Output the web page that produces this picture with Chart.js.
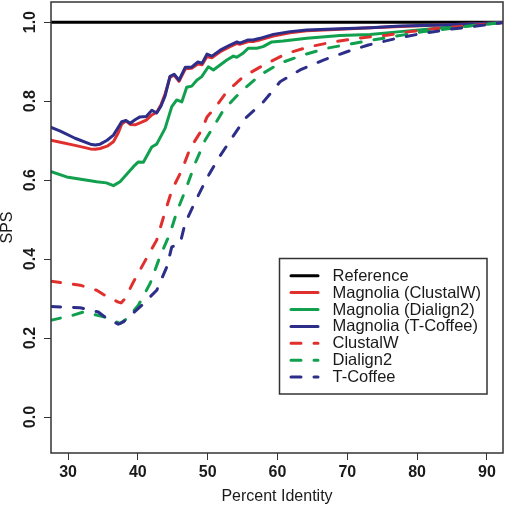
<!DOCTYPE html>
<html>
<head>
<meta charset="utf-8">
<script src="https://cdn.jsdelivr.net/npm/chart.js@4/dist/chart.umd.min.js"></script>
<style>html,body{margin:0;padding:0;background:#fff;}canvas{display:block;}</style>
</head>
<body>
<canvas id="c" width="507" height="506"></canvas>
<script>
// ---- data ----
const seriesLabels = ["Reference", "Magnolia (ClustalW)", "Magnolia (Dialign2)", "Magnolia (T-Coffee)", "ClustalW", "Dialign2", "T-Coffee"];
const xTicks = [30, 40, 50, 60, 70, 80, 90];
const yTicks = [0.0, 0.2, 0.4, 0.6, 0.8, 1.0];
const xRange = [27.56, 92.3];
const yRange = [-0.091, 1.051];

const refX = [27.56, 92.3];
const refY = [1.0, 1.0];

const magX = [27.5, 28.9, 31.0, 33.2, 33.9, 34.6, 35.6, 36.5, 37.2, 37.7, 38.3, 38.9, 39.6, 40.3, 41.2, 42.0, 42.7, 43.3, 43.9, 44.6, 45.2, 45.9, 46.8, 47.7, 48.6, 49.2, 49.9, 50.6, 51.8, 53.2, 54.2, 54.6, 55.8, 56.5, 57.5, 59.4, 61.8, 64.2, 69.0, 73.3, 77.6, 83.3, 87.6, 92.3];
const magClustalY = [0.701, 0.696, 0.688, 0.679, 0.678, 0.680, 0.686, 0.697, 0.720, 0.742, 0.750, 0.741, 0.740, 0.745, 0.752, 0.765, 0.772, 0.790, 0.818, 0.860, 0.866, 0.850, 0.882, 0.883, 0.894, 0.892, 0.913, 0.910, 0.925, 0.938, 0.946, 0.944, 0.951, 0.951, 0.955, 0.965, 0.973, 0.978, 0.982, 0.986, 0.989, 0.993, 0.995, 0.999];
const magTcoffeeY = [0.734, 0.724, 0.706, 0.691, 0.689, 0.691, 0.701, 0.714, 0.734, 0.748, 0.751, 0.744, 0.753, 0.760, 0.761, 0.777, 0.770, 0.787, 0.813, 0.863, 0.868, 0.853, 0.886, 0.886, 0.899, 0.896, 0.919, 0.914, 0.929, 0.942, 0.950, 0.947, 0.955, 0.955, 0.959, 0.969, 0.976, 0.980, 0.983, 0.986, 0.990, 0.993, 0.995, 0.999];

const magDialignX = [27.5, 29.8, 34.1, 35.5, 36.5, 37.45, 39.36, 40.07, 40.79, 41.99, 42.7, 43.9, 44.86, 45.57, 46.29, 47.0, 47.72, 48.44, 49.15, 50.1, 50.82, 52.74, 53.68, 54.17, 55.11, 55.83, 57.03, 57.94, 59.18, 60.8, 64.2, 68.97, 73.27, 77.56, 83.3, 87.6, 92.3];
const magDialignY = [0.622, 0.608, 0.596, 0.593, 0.586, 0.596, 0.634, 0.646, 0.645, 0.684, 0.691, 0.731, 0.786, 0.803, 0.798, 0.835, 0.838, 0.853, 0.862, 0.887, 0.879, 0.904, 0.914, 0.911, 0.922, 0.934, 0.934, 0.938, 0.950, 0.952, 0.959, 0.966, 0.969, 0.976, 0.985, 0.991, 0.999];

const clustalX = [27.5, 31.72, 34.11, 35.3, 37.2, 37.6, 38.17, 39.36, 41.27, 42.7, 43.65, 44.86, 46.29, 47.48, 49.15, 49.91, 50.34, 50.82, 52.74, 55.11, 57.98, 61.33, 64.67, 68.01, 71.83, 75.66, 79.0, 82.8, 86.16, 89.98, 92.3];
const clustalY = [0.344, 0.334, 0.321, 0.308, 0.291, 0.289, 0.300, 0.342, 0.403, 0.448, 0.505, 0.574, 0.625, 0.680, 0.727, 0.760, 0.769, 0.777, 0.824, 0.862, 0.891, 0.921, 0.938, 0.950, 0.960, 0.967, 0.976, 0.984, 0.989, 0.995, 0.999];

const dialignX = [27.5, 30.76, 32.19, 35.3, 37.45, 38.41, 40.07, 41.75, 43.18, 44.61, 45.57, 47.0, 48.19, 49.63, 50.82, 52.25, 54.64, 57.5, 60.37, 63.71, 67.06, 70.87, 73.74, 77.09, 80.9, 84.73, 88.55, 92.3];
const dialignY = [0.245, 0.258, 0.266, 0.253, 0.237, 0.249, 0.283, 0.338, 0.407, 0.465, 0.519, 0.583, 0.642, 0.701, 0.735, 0.777, 0.822, 0.866, 0.896, 0.917, 0.934, 0.946, 0.955, 0.965, 0.976, 0.984, 0.993, 0.999];

const tcoffeeX = [27.5, 31.72, 34.34, 35.3, 37.2, 37.92, 40.56, 42.7, 44.14, 44.86, 46.05, 46.76, 48.19, 49.87, 51.53, 53.45, 55.36, 57.98, 60.37, 63.24, 66.58, 69.93, 73.02, 77.09, 80.9, 84.73, 88.55, 92.3];
const tcoffeeY = [0.280, 0.277, 0.266, 0.253, 0.235, 0.241, 0.283, 0.321, 0.380, 0.431, 0.439, 0.490, 0.545, 0.604, 0.655, 0.706, 0.756, 0.798, 0.849, 0.879, 0.904, 0.925, 0.942, 0.959, 0.972, 0.982, 0.990, 0.999];

// ---- styling ----
const FONT = "'Liberation Sans', Arial, Helvetica, sans-serif";
const COLORS = ["#000000", "#E0302E", "#10A04E", "#2C2E8A", "#E0302E", "#10A04E", "#2C2E8A"];
const DASH = [10, 13];
const pts = (xs, ys) => xs.map((x, i) => ({x: x, y: ys[i]}));
const seriesData = [
  pts(refX, refY), pts(magX, magClustalY), pts(magDialignX, magDialignY), pts(magX, magTcoffeeY),
  pts(clustalX, clustalY), pts(dialignX, dialignY), pts(tcoffeeX, tcoffeeY)
];

const datasets = seriesData.map((d, i) => ({
  label: seriesLabels[i],
  data: d,
  borderColor: COLORS[i],
  backgroundColor: COLORS[i],
  borderWidth: 3,
  borderDash: i >= 4 ? DASH : [],
  borderCapStyle: 'round',
  borderJoinStyle: 'round',
  pointRadius: 0,
  tension: 0,
  fill: false,
  order: 10 - i
}));

const boxPlugin = {
  id: 'box',
  afterDraw(chart) {
    const {ctx, chartArea: a} = chart;
    ctx.save();
    ctx.strokeStyle = '#333';
    ctx.lineWidth = 1.5;
    ctx.strokeRect(a.left, a.top, a.right - a.left, a.bottom - a.top);
    ctx.restore();
  }
};

const legendPlugin = {
  id: 'rlegend',
  afterDraw(chart) {
    const ctx = chart.ctx;
    const bx = 279.5, by = 258.5, bw = 207.5, bh = 135.5;
    ctx.save();
    ctx.fillStyle = '#fff';
    ctx.fillRect(bx, by, bw, bh);
    ctx.strokeStyle = '#333';
    ctx.lineWidth = 1.5;
    ctx.strokeRect(bx, by, bw, bh);
    chart.data.datasets.forEach((ds, i) => {
      const cy = 275.7 + i * 16.9;
      ctx.strokeStyle = ds.borderColor;
      ctx.lineWidth = 3;
      ctx.lineCap = 'round';
      ctx.setLineDash(ds.borderDash && ds.borderDash.length ? ds.borderDash : []);
      ctx.beginPath();
      ctx.moveTo(291, cy);
      ctx.lineTo(318, cy);
      ctx.stroke();
      ctx.setLineDash([]);
      ctx.fillStyle = '#1a1a1a';
      ctx.font = '16.5px ' + FONT;
      ctx.textBaseline = 'middle';
      ctx.textAlign = 'left';
      ctx.fillText(ds.label, 332.5, cy + 0.5);
    });
    ctx.restore();
  }
};

new Chart(document.getElementById('c'), {
  type: 'line',
  data: {datasets: datasets},
  plugins: [boxPlugin, legendPlugin],
  options: {
    responsive: false,
    animation: false,
    devicePixelRatio: 1,
    layout: {padding: {top: 2, right: 4, left: 0, bottom: 0}},
    plugins: {legend: {display: false}, tooltip: {enabled: false}},
    scales: {
      x: {
        type: 'linear',
        min: xRange[0], max: xRange[1],
        afterBuildTicks: s => { s.ticks = xTicks.map(v => ({value: v})); },
        afterFit: s => { s.height = 53; s.paddingLeft = 0; s.paddingRight = 0; },
        grid: {drawOnChartArea: false, drawTicks: true, tickLength: 7, color: '#333', lineWidth: 1},
        border: {display: false},
        ticks: {
          autoSkip: false, maxRotation: 0, minRotation: 0, padding: 3,
          color: '#1a1a1a', font: {family: FONT, size: 16, weight: 'bold'},
          callback: v => String(v)
        },
        title: {display: true, text: 'Percent Identity', color: '#1a1a1a', padding: 0,
                font: {family: FONT, size: 16}}
      },
      y: {
        type: 'linear',
        min: yRange[0], max: yRange[1],
        afterBuildTicks: s => { s.ticks = yTicks.map(v => ({value: v})); },
        afterFit: s => { s.width = 51; s.paddingTop = 0; s.paddingBottom = 0; },
        grid: {drawOnChartArea: false, drawTicks: true, tickLength: 7, color: '#333', lineWidth: 1},
        border: {display: false},
        ticks: {
          autoSkip: false, minRotation: 90, maxRotation: 90, crossAlign: 'center', padding: 2,
          color: '#1a1a1a', font: {family: FONT, size: 16, weight: 'bold'},
          callback: v => Number(v).toFixed(1)
        },
        title: {display: true, text: 'SPS', color: '#1a1a1a', padding: 0,
                font: {family: FONT, size: 16, lineHeight: 0.95}}
      }
    }
  }
});
</script>
</body>
</html>
